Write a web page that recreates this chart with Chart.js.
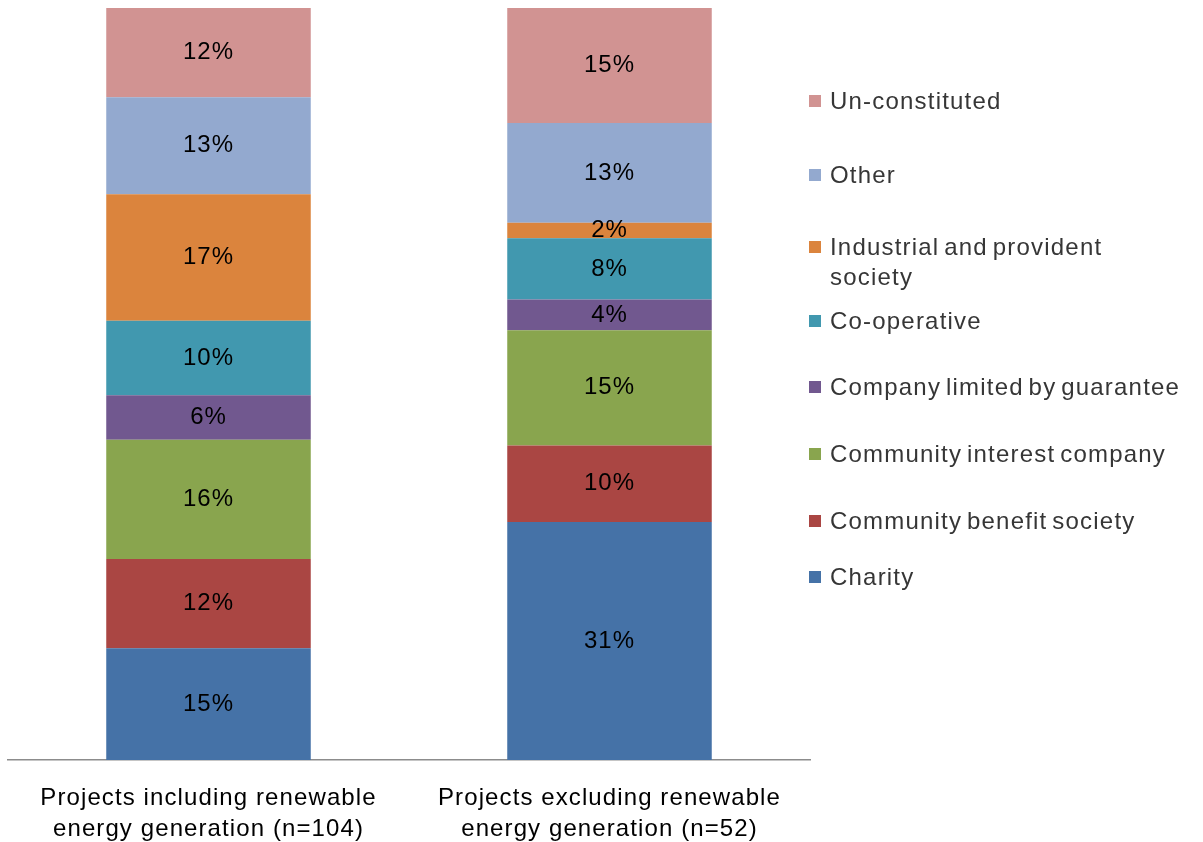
<!DOCTYPE html>
<html>
<head>
<meta charset="utf-8">
<script src="https://cdn.jsdelivr.net/npm/chart.js@4/dist/chart.umd.min.js"></script>
<style>
    body { margin: 0; background: #fff; }
    #wrap { position: relative; width: 1203px; height: 842px; }
    #legend { position: absolute; left: 0; top: 0; font-family: "Liberation Sans", Arial, sans-serif; font-size: 24px; letter-spacing: 1.2px; word-spacing: -3px; color: #363636; }
    .box { position: absolute; left: 809px; width: 12px; height: 12px; }
    .txt { position: absolute; left: 830px; line-height: 30px; white-space: pre; }
</style>
</head>
<body>
<div id="wrap">
    <canvas id="legalForms" width="1203" height="842"></canvas>
    <div id="legend"></div>
</div>
<script>
// categorias (dos columnas) y formas legales
const categories = [
    ['Projects including renewable', 'energy generation (n=104)'],
    ['Projects excluding renewable', 'energy generation (n=52)']
];
const seriesNames = [
    'Charity',
    'Community benefit society',
    'Community interest company',
    'Company limited by guarantee',
    'Co-operative',
    'Industrial and provident society',
    'Other',
    'Un-constituted'
];
// porcentajes por columna, mismo orden que seriesNames
const includingRenewables = [15, 12, 16, 6, 10, 17, 13, 12];
const excludingRenewables = [31, 10, 15, 4, 8, 2, 13, 15];

const seriesColors = ['#4572A7', '#AA4643', '#89A54E', '#71588F', '#4198AF', '#DB843D', '#93A9CF', '#D19392'];

// centro vertical de cada fila de la leyenda (de arriba hacia abajo)
const legendRows = [101, 175, 247, 321, 387, 454, 521, 577];

const columns = [includingRenewables, excludingRenewables];
const totals = columns.map(col => col.reduce((a, b) => a + b, 0));

// cada columna se lleva a 100% como un grafico apilado al 100%
const datasets = seriesNames.map((name, i) => ({
    label: name,
    data: columns.map((col, c) => col[i] / totals[c] * 100),
    shown: columns.map(col => col[i]),
    backgroundColor: seriesColors[i],
    borderWidth: 0,
    categoryPercentage: 1,
    barPercentage: 0.51,
}));

// etiquetas de porcentaje dentro de cada segmento
const segmentLabels = {
    id: 'segmentLabels',
    afterDatasetsDraw(chart) {
        const ctx = chart.ctx;
        ctx.save();
        ctx.font = '24px "Liberation Sans", Arial, sans-serif';
        ctx.letterSpacing = '1px';
        ctx.fillStyle = '#000';
        ctx.textAlign = 'center';
        ctx.textBaseline = 'middle';
        chart.data.datasets.forEach((ds, i) => {
            chart.getDatasetMeta(i).data.forEach((bar, j) => {
                const y = (bar.y + bar.base) / 2;
                ctx.fillText(ds.shown[j] + '%', bar.x, y);
            });
        });
        ctx.restore();
    }
};

// espaciado de letras para los textos del eje
const spacing = {
    id: 'spacing',
    beforeDraw(chart) { chart.ctx.letterSpacing = '1.1px'; },
    afterDraw(chart) { chart.ctx.letterSpacing = '0px'; }
};

new Chart(document.getElementById('legalForms').getContext('2d'), {
    type: 'bar',
    data: { labels: categories, datasets: datasets },
    options: {
        responsive: false,
        animation: false,
        devicePixelRatio: 1,
        layout: { padding: { left: 8, right: 393, top: 8, bottom: 0 } },
        plugins: {
            legend: { display: false },
            tooltip: { enabled: false },
        },
        scales: {
            x: {
                stacked: true,
                grid: { display: false, drawTicks: false },
                border: { display: true, color: '#8c8c8c', width: 1.5 },
                ticks: {
                    color: '#000',
                    padding: 23,
                    font: { family: '"Liberation Sans", Arial, sans-serif', size: 24, lineHeight: 1.3 },
                },
                afterFit(scale) { scale.height = 82; },
            },
            y: {
                stacked: true,
                display: false,
                min: 0,
                max: 100,
            },
        },
    },
    plugins: [segmentLabels, spacing],
});

// leyenda a la derecha, en orden inverso al apilado
const wrapLabel = (text, maxChars) => {
    if (text.length <= maxChars) return text;
    const cut = text.lastIndexOf(' ', maxChars);
    return text.slice(0, cut) + '\n' + text.slice(cut + 1);
};

const legend = document.getElementById('legend');
seriesNames.slice().reverse().forEach((name, k) => {
    const idx = seriesNames.length - 1 - k;
    const center = legendRows[k];
    const box = document.createElement('div');
    box.className = 'box';
    box.style.top = (center - 6) + 'px';
    box.style.background = seriesColors[idx];
    const txt = document.createElement('div');
    txt.className = 'txt';
    txt.style.top = (center - 15) + 'px';
    txt.textContent = wrapLabel(name, 30);
    legend.appendChild(box);
    legend.appendChild(txt);
});
</script>
</body>
</html>
